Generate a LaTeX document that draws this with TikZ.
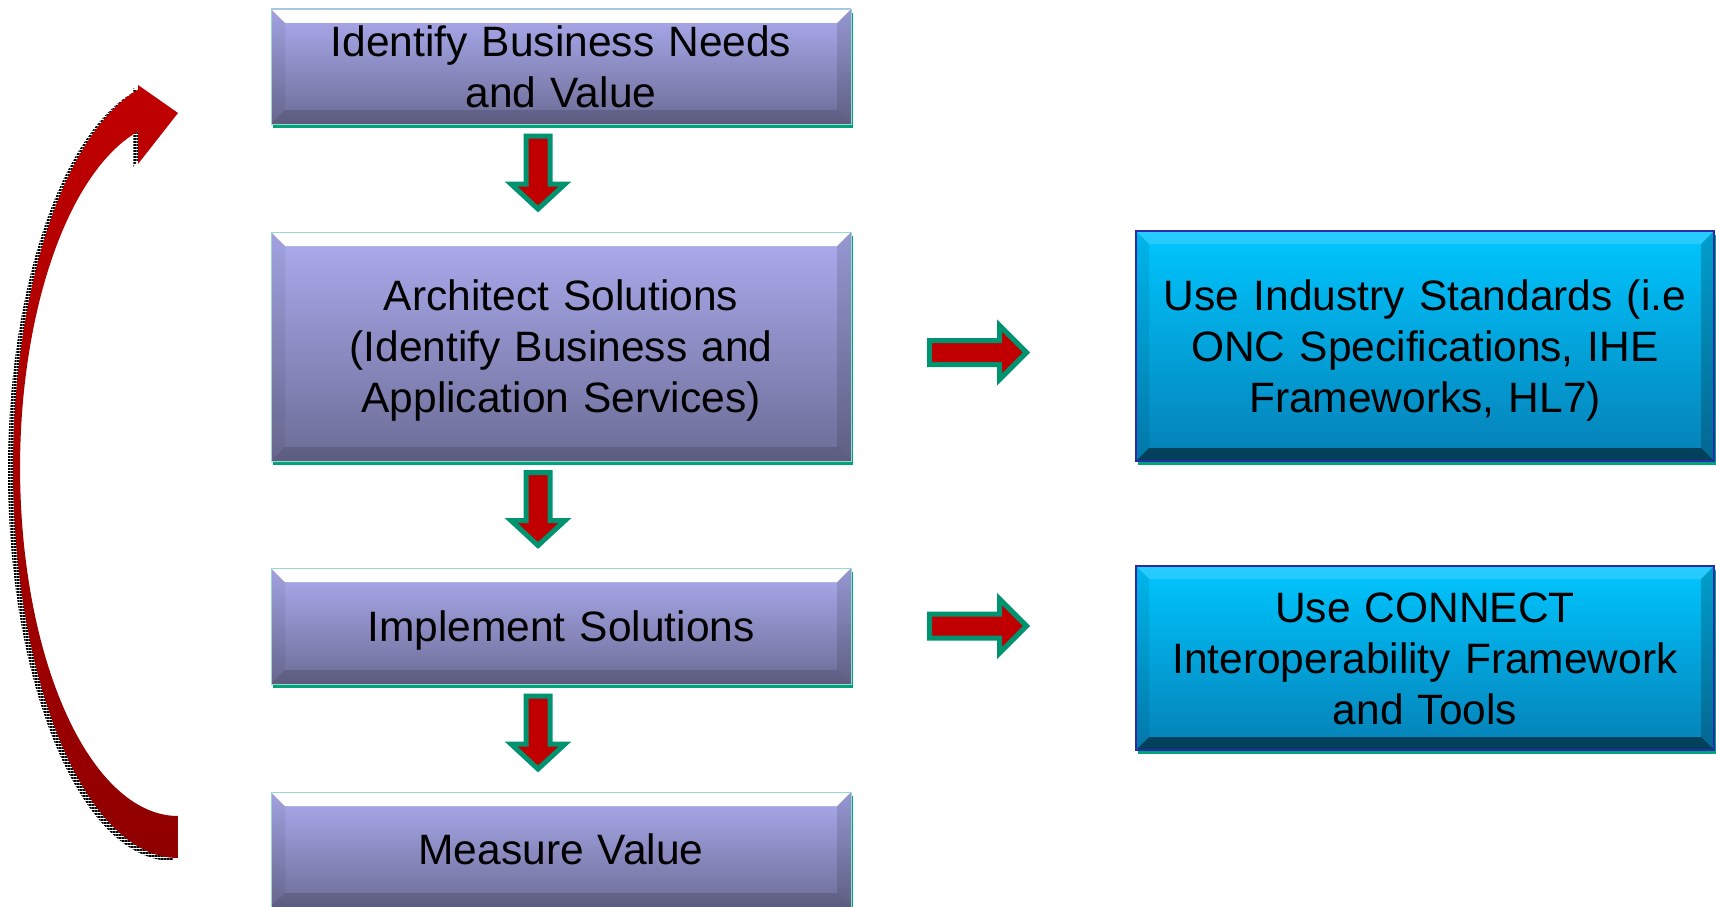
\documentclass[tikz,border=0pt]{standalone}
\usepackage{fontspec}
\setmainfont{Liberation Sans}
\usetikzlibrary{calc,shadows,patterns.meta}

\definecolor{facetop}{HTML}{ACACF0}
\definecolor{facebot}{HTML}{6C6C96}
\definecolor{cyantop}{HTML}{00C6FF}
\definecolor{cyanbot}{HTML}{0580B6}
\definecolor{edgegreen}{HTML}{00A47C}
\definecolor{arrowred}{HTML}{C00000}
\definecolor{arrowdark}{HTML}{900000}
\definecolor{arrowgreen}{HTML}{00936F}
\definecolor{rimblue}{HTML}{2A2AAA}

\newcommand\boxfont{\fontsize{42.5}{51}\selectfont}

% bevel: width, top, left, right, bottom
\newcommand\bevelpic[5]{
	\coordinate (nw) at (path picture bounding box.north west);
	\coordinate (ne) at (path picture bounding box.north east);
	\coordinate (sw) at (path picture bounding box.south west);
	\coordinate (se) at (path picture bounding box.south east);
	\fill[#2] (nw) -- (ne) -- ($(ne)+(-#1,-#1)$) -- ($(nw)+(#1,-#1)$) -- cycle;
	\fill[#3] (nw) -- ($(nw)+(#1,-#1)$) -- ($(sw)+(#1,#1)$) -- (sw) -- cycle;
	\fill[#4] (ne) -- ($(ne)+(-#1,-#1)$) -- ($(se)+(-#1,#1)$) -- (se) -- cycle;
	\fill[#5] (sw) -- ($(sw)+(#1,#1)$) -- ($(se)+(-#1,#1)$) -- (se) -- cycle;
}

% return arrow outline
\newcommand\returnpath{(178,858) arc[start angle=90,end angle=256,x radius=165,y radius=390]
	-- (138,85) -- (178,113) -- (138,164) -- (138,131.4)
	arc[start angle=255.3,end angle=90,x radius=158,y radius=348] -- cycle}

\tikzset{
	boxtext/.style={text width=560pt, align=center, font=\boxfont,
		execute at begin node=\rule{0pt}{41.4pt},
		execute at end node=\rule[-11pt]{0pt}{11pt}},
	stepbox/.style={rectangle, inner sep=0pt, outer sep=0pt, minimum width=580pt, boxtext,
		top color=facetop, bottom color=facebot, draw=edgegreen!40, line width=0.8pt,
		drop shadow={shadow xshift=2pt, shadow yshift=-4pt, fill=edgegreen, opacity=1},
		path picture={\bevelpic{14pt}{white}{black,opacity=0.06}{black,opacity=0.12}{black,opacity=0.14}}},
	infobox/.style={rectangle, inner sep=0pt, outer sep=0pt, minimum width=578pt, boxtext,
		top color=cyantop, bottom color=cyanbot, draw=rimblue, line width=2.5pt,
		drop shadow={shadow xshift=2pt, shadow yshift=-4pt, fill=edgegreen, opacity=1},
		path picture={\bevelpic{13pt}{white,opacity=0.15}{black,opacity=0.08}{black,opacity=0.2}{black,opacity=0.5}}},
	blockarrow/.style={fill=arrowred, draw=arrowgreen, line width=5pt, line join=miter},
	downblock/.pic={\filldraw[blockarrow] (-12,-37) -- (12,-37) -- (12,11) -- (27,11) -- (0,36) -- (-27,11) -- (-12,11) -- cycle;},
	rightblock/.pic={\filldraw[blockarrow] (-49,-12) -- (21,-12) -- (21,-27) -- (48,0) -- (21,27) -- (21,12) -- (-49,12) -- cycle;},
}

\begin{document}
\begin{tikzpicture}[x=1pt,y=-1pt]
		\useasboundingbox (0,0) rectangle (1716,907);
		
		\node[stepbox, minimum height=115pt] (needs) at (561,66.5) {Identify Business Needs\\and Value};
		\node[stepbox, minimum height=229pt] (arch) at (561,346.5) {Architect Solutions\\(Identify Business and\\Application Services)};
		\node[stepbox, minimum height=116pt] (impl) at (561,626) {Implement Solutions};
		\node[stepbox, minimum height=115pt] (meas) at (561,849.5) {Measure Value};
		
		\node[infobox, minimum height=230pt] (stds) at (1425,346) {Use Industry Standards (i.e\\ONC Specifications, IHE\\Frameworks, HL7)};
		\node[infobox, minimum height=184pt] (conn) at (1425,658) {Use CONNECT\\Interoperability Framework\\and Tools};
		
		\pic at ($(needs.south)!0.5!(arch.north)+(-23,-5)$) {downblock};
		\pic at ($(arch.south)!0.5!(impl.north)+(-23,-5)$) {downblock};
		\pic at ($(impl.south)!0.5!(meas.north)+(-23,-5)$) {downblock};
		
		\pic at ($(arch.east)!0.5!(arch.east -| stds.west)+(-15,6)$) {rightblock};
		\pic at ($(impl.east)!0.5!(impl.east -| conn.west)+(-15,0)$) {rightblock};
		
		% loop back to the top
		\fill[pattern={Lines[angle=0,distance=3pt,line width=1.4pt]}, pattern color=black, shift={(-5pt,-3pt)}] \returnpath;
		\shade[top color=arrowred, bottom color=arrowdark] \returnpath;
	\end{tikzpicture}
\end{document}
